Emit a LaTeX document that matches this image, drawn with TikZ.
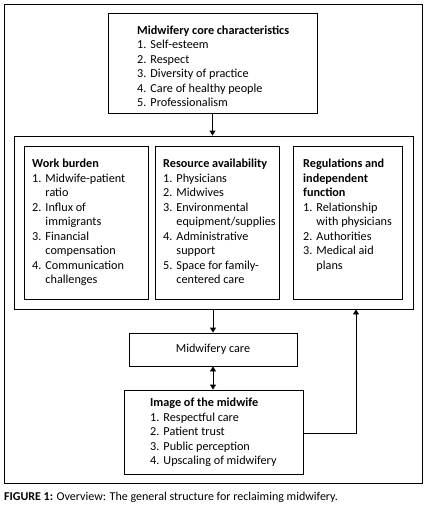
\documentclass[tikz,border=0pt]{standalone}
\usepackage{fontspec}
\setmainfont{Carlito}
\usetikzlibrary{arrows.meta}
\newcommand{\lst}[1]{{\fontsize{12.2}{14.5}\selectfont\begin{tabular}{@{}l@{\hspace{0.33em}}l@{}}#1\end{tabular}}}
\newcommand{\hd}[1]{\multicolumn{2}{@{}l@{}}{\bfseries #1}}
\begin{document}
\begin{tikzpicture}[x=1pt,y=-1pt,
  box/.style={draw=black,line width=0.9pt,inner sep=0pt,minimum width=#1},
  txt/.style={anchor=north west,inner sep=0pt,align=left},
  conn/.style={line width=0.9pt,-{Triangle[width=6pt,length=5pt]}},
  dconn/.style={line width=0.9pt,{Triangle[width=6pt,length=5pt]}-{Triangle[width=6pt,length=5pt]}}]
\useasboundingbox (0,0) rectangle (426,509);
\node[box=418pt,minimum height=479pt] (frame) at (213,243.5) {};
\node[box=209pt,minimum height=100pt] (core) at (212.5,63) {};
\node[txt] (coretxt) at (137,24) {\lst{\hd{Midwifery core characteristics}\\ 1. & Self-esteem\\ 2. & Respect\\ 3. & Diversity of practice\\ 4. & Care of healthy people\\ 5. & Professionalism}};
\node[box=399pt,minimum height=173pt] (group) at (213.5,222.5) {};
\node[box=124pt,minimum height=153pt] (wb) at (86,222.5) {};
\node[box=124pt,minimum height=153pt] (ra) at (217,222.5) {};
\node[box=109pt,minimum height=153pt] (rg) at (347.5,222.5) {};
\node[txt] (wbtxt) at (32,157.3) {\lst{\hd{Work burden}\\ 1. & Midwife-patient\\ & ratio\\ 2. & Influx of\\ & immigrants\\ 3. & Financial\\ & compensation\\ 4. & Communication\\ & challenges}};
\node[txt] (ratxt) at (163,157.3) {\lst{\hd{Resource availability}\\ 1. & Physicians\\ 2. & Midwives\\ 3. & Environmental\\ & equipment/supplies\\ 4. & Administrative\\ & support\\ 5. & Space for family-\\ & centered care}};
\node[txt] (rgtxt) at (303,157.3) {\lst{\hd{Regulations and}\\ \hd{independent}\\ \hd{function}\\ 1. & Relationship\\ & with physicians\\ 2. & Authorities\\ 3. & Medical aid\\ & plans}};
\node[box=168pt,minimum height=33pt,font=\fontsize{12.2}{14.5}\selectfont] (care) at (213,349.5) {Midwifery care};
\node[box=179pt,minimum height=84pt] (img) at (213.5,432) {};
\node[txt] (imgtxt) at (150,396.3) {\lst{\hd{Image of the midwife}\\ 1. & Respectful care\\ 2. & Patient trust\\ 3. & Public perception\\ 4. & Upscaling of midwifery}};
\coordinate (bend) at (356,433);
\draw[conn] (core.south) -- (core.south |- group.north);
\draw[conn] (care.north |- group.south) -- (care.north);
\draw[dconn] (care.south) -- (care.south |- img.north);
\draw[conn] (img.east |- bend) -- (bend) -- (bend |- group.south);
\node[anchor=base west,inner sep=0pt,font=\fontsize{12}{14}\selectfont] (caption) at (4,500) {\textbf{FIGURE 1:} Overview: The general structure for reclaiming midwifery.};
\end{tikzpicture}
\end{document}
